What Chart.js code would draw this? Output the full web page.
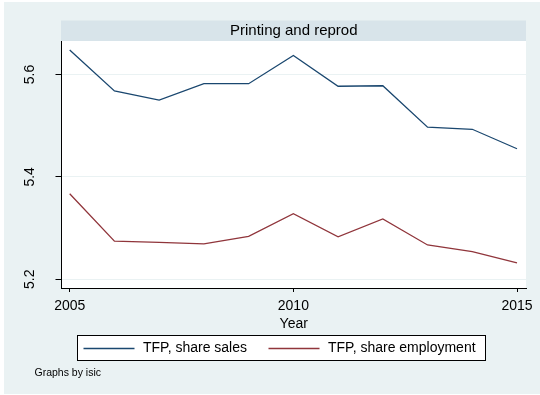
<!DOCTYPE html>
<html>
<head>
<meta charset="utf-8">
<script src="https://cdn.jsdelivr.net/npm/chart.js@4.4.1/dist/chart.umd.min.js"></script>
<style>
  html, body { margin: 0; padding: 0; background: #fff; }
  canvas { display: block; }
</style>
</head>
<body>
<canvas id="tfpChart" width="540" height="395"></canvas>
<script>
const years = [2005, 2006, 2007, 2008, 2009, 2010, 2011, 2012, 2013, 2014, 2015];
const shareSales = [5.648, 5.568, 5.550, 5.582, 5.582, 5.637, 5.577, 5.578, 5.497, 5.493, 5.455];
const shareEmployment = [5.367, 5.2745, 5.272, 5.269, 5.284, 5.328, 5.283, 5.318, 5.267, 5.254, 5.232];
const xTicks = [2005, 2010, 2015];
const yTicks = [5.2, 5.4, 5.6];
const panelTitle = "Printing and reprod";
const note = "Graphs by isic";

const FONT = "'Liberation Sans', Arial, sans-serif";
const BG = "#eaf2f3";

// outer panel, strip title above plot, boxed legend and note
const stataFrame = {
  id: "stataFrame",
  beforeDraw(chart) {
    const ctx = chart.ctx;
    const a = chart.chartArea;
    ctx.save();
    ctx.fillStyle = "#fff";
    ctx.fillRect(0, 0, chart.width, chart.height);
    ctx.fillStyle = BG;
    ctx.fillRect(4, 2, chart.width - 4, chart.height - 3);
    ctx.fillStyle = "#fff";
    ctx.fillRect(a.left, a.top, a.right - a.left, a.bottom - a.top);
    // strip title
    ctx.fillStyle = "#d8e4ea";
    ctx.fillRect(a.left - 0.5, a.top - 20.5, a.right - a.left + 0.5, 20.5);
    ctx.fillStyle = "#000";
    ctx.font = "15px " + FONT;
    ctx.textAlign = "center";
    ctx.textBaseline = "middle";
    ctx.fillText(panelTitle, (a.left + a.right) / 2, a.top - 10);
    ctx.restore();
  },
  afterDraw(chart) {
    const ctx = chart.ctx;
    const yScale = chart.scales.y;
    ctx.save();
    // rotated y tick labels
    ctx.fillStyle = "#000";
    ctx.font = "14px " + FONT;
    ctx.textAlign = "center";
    ctx.textBaseline = "middle";
    yTicks.forEach(v => {
      const py = yScale.getPixelForValue(v);
      ctx.save();
      ctx.translate(30.5, py);
      ctx.rotate(-Math.PI / 2);
      ctx.fillText(v.toFixed(1), 0, 0);
      ctx.restore();
    });

    // legend box
    ctx.fillStyle = "#fff";
    ctx.fillRect(77.5, 335.5, 408, 25);
    ctx.strokeStyle = "#000";
    ctx.lineWidth = 1;
    ctx.strokeRect(77.5, 335.5, 408, 25);
    const keyX = [83.5, 268.5];
    chart.data.datasets.forEach((ds, i) => {
      ctx.strokeStyle = ds.borderColor;
      ctx.lineWidth = 1.3;
      ctx.beginPath();
      ctx.moveTo(keyX[i], 348.5);
      ctx.lineTo(keyX[i] + 51, 348.5);
      ctx.stroke();
      ctx.fillStyle = "#000";
      ctx.font = "14px " + FONT;
      ctx.textAlign = "left";
      ctx.textBaseline = "middle";
      ctx.fillText(ds.label, keyX[i] + 59.5, 348.5);
    });

    ctx.font = "10.5px " + FONT;
    ctx.fillText(note, 34.5, 373.5);
    ctx.restore();
  }
};

new Chart(document.getElementById("tfpChart"), {
  type: "line",
  data: {
    datasets: [
      {
        label: "TFP, share sales",
        data: years.map((yr, i) => ({ x: yr, y: shareSales[i] })),
        borderColor: "#1a476f",
        borderWidth: 1.3,
        pointRadius: 0,
        tension: 0
      },
      {
        label: "TFP, share employment",
        data: years.map((yr, i) => ({ x: yr, y: shareEmployment[i] })),
        borderColor: "#90353b",
        borderWidth: 1.3,
        pointRadius: 0,
        tension: 0
      }
    ]
  },
  options: {
    responsive: false,
    animation: false,
    devicePixelRatio: 1,
    layout: { padding: { left: 0, top: 41, right: 14, bottom: 0 } },
    plugins: {
      legend: { display: false },
      tooltip: { enabled: false }
    },
    scales: {
      x: {
        type: "linear",
        min: 2004.8167,
        max: 2015.201,
        afterBuildTicks: scale => { scale.ticks = xTicks.map(v => ({ value: v })); },
        afterFit: scale => { scale.height = 107; },
        border: { display: true, color: "#000", width: 1 },
        grid: { drawOnChartArea: false, tickLength: 4, tickColor: "#000" },
        ticks: {
          color: "#000",
          font: { family: FONT, size: 14 },
          padding: 6,
          maxRotation: 0,
          callback: v => String(v)
        },
        title: {
          display: true,
          text: "Year",
          color: "#000",
          font: { family: FONT, size: 14 },
          padding: { top: 0, bottom: 62 }
        }
      },
      y: {
        type: "linear",
        min: 5.183,
        max: 5.6654,
        afterBuildTicks: scale => { scale.ticks = yTicks.map(v => ({ value: v })); },
        afterFit: scale => { scale.width = 61.5; },
        border: { display: true, color: "#000", width: 1 },
        grid: { color: BG, lineWidth: 1, tickLength: 6, tickColor: "#000" },
        ticks: { display: false }
      }
    }
  },
  plugins: [stataFrame]
});
</script>
</body>
</html>
